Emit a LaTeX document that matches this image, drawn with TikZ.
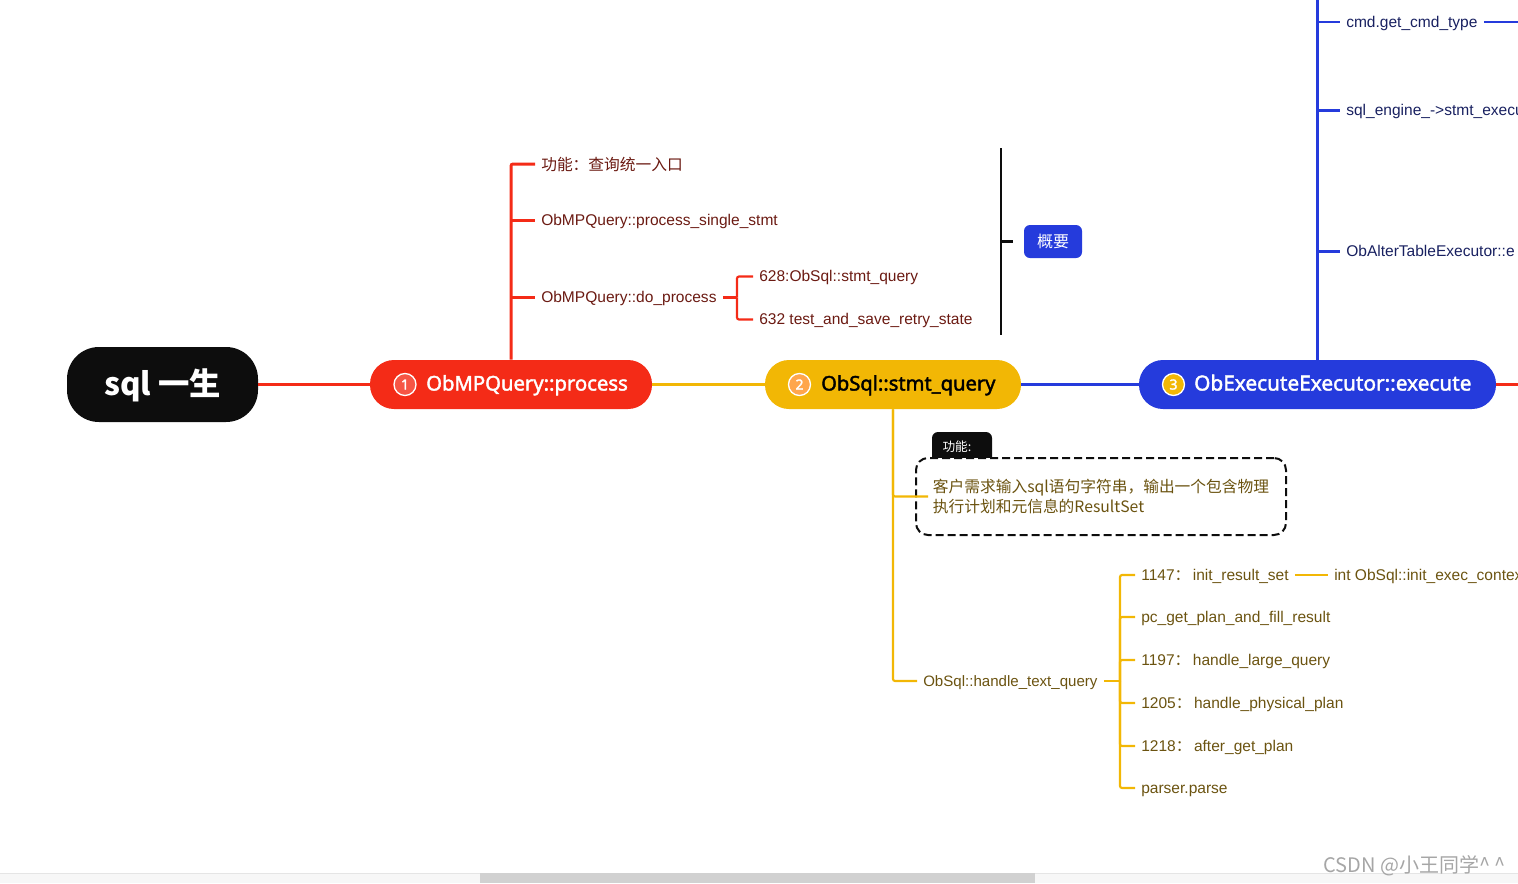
\documentclass[tikz,border=0pt]{standalone}
\usepackage{fontspec}
\setmainfont{Liberation Sans}
\newfontfamily\cjk{Noto Sans CJK SC}
\newfontfamily\boldf{Noto Sans}[FakeBold=2]
\definecolor{cred}{HTML}{F42B17}
\definecolor{cyel}{HTML}{F2B705}
\definecolor{cblu}{HTML}{253BDC}
\definecolor{cblk}{HTML}{0D0D0D}
\definecolor{tred}{HTML}{6B1A12}
\definecolor{tyel}{HTML}{6B5310}
\definecolor{tblu}{HTML}{182060}
\newcommand{\fw}{{\cjk ：}\hspace{2pt}}
\tikzset{
  x=0.75pt,y=-0.75pt,
  line/.style={line width=2.25pt,rounded corners=1.5pt},
  thick3/.style={line width=2.25pt},
  thin2/.style={line width=1.6pt,rounded corners=1.5pt},
  pill/.style={rounded corners=18pt,minimum height=36.75pt,inner sep=0pt,text=white,text height=12pt,text depth=3pt},
  badge/.style={circle,draw=white,line width=1pt,minimum size=16.5pt,inner sep=0pt,font=\boldf\fontsize{10.5pt}{12pt}\selectfont,text=white},
  leaf/.style={anchor=west,inner xsep=4.5pt,inner ysep=0pt,font=\fontsize{11.65pt}{14pt}\selectfont,text height=9.5pt,text depth=1.5pt},
  redt/.style={leaf,text=tred},
  yelt/.style={leaf,text=tyel},
  blut/.style={leaf,text=tblu},
}
\begin{document}
\begin{tikzpicture}
\useasboundingbox (0,0) rectangle (1518,883);
\clip (0,0) rectangle (1518,883);
% scrollbar
\fill[fill=black!3] (0,873) rectangle (1518,883);
\draw[black!10,line width=0.6pt] (0,873) -- (1518,873);
\fill[fill=black!18] (480,873) rectangle (1035,883);
% main pills
\node[pill,fill=cblk,rounded corners=24pt,minimum width=143.25pt,minimum height=56.25pt,text height=19pt,text depth=3pt,font=\cjk\bfseries\fontsize{23.5pt}{28pt}\selectfont] (root) at (162.5,384.5) {sql 一生};
\node[pill,fill=cred,minimum width=211.5pt,font=\boldf\fontsize{15.2pt}{18pt}\selectfont] (p1) at (511,384.5) {\hspace*{24pt}ObMPQuery::process};
\node[pill,fill=cyel,minimum width=192pt,text=black,font=\boldf\fontsize{15.1pt}{18pt}\selectfont] (p2) at (893,384.5) {\hspace*{23pt}ObSql::stmt\_query};
\node[pill,fill=cblu,minimum width=267.75pt,font=\boldf\fontsize{15.6pt}{18pt}\selectfont] (p3) at (1317.5,384.5) {\hspace*{23pt}ObExecuteExecutor::execute};
\node[badge,fill=cred!80!white] (b1) at (405,384.5) {1};
\node[badge,fill=orange!70!white] (b2) at (799.5,384.5) {2};
\node[badge,fill=cyel] (b3) at (1173.5,384.5) {3};
\coordinate (edgeR) at (1518,384.5);
\coordinate (topB) at (1317.5,0);
\coordinate (edgeB) at (1518,22);
% main connectors
\draw[thick3,cred] (root.east) -- (p1.west);
\draw[thick3,cyel] (p1.east) -- (p2.west);
\draw[thick3,cblu] (p2.east) -- (p3.west);
\draw[thick3,cred] (p3.east) -- (edgeR);
% red branch
\node[redt,font=\cjk\fontsize{11.8pt}{14pt}\selectfont] (r1) at (535,165) {功能：查询统一入口};
\node[redt] (r2) at (535,220.5) {ObMPQuery::process\_single\_stmt};
\node[redt] (r3) at (535,297.5) {ObMPQuery::do\_process};
\node[redt] (r4) at (753,276.5) {628:ObSql::stmt\_query};
\node[redt] (r5) at (753,319.5) {632 test\_and\_save\_retry\_state};
\coordinate (r1c) at (535,164);
\draw[line,cred] (p1.north) |- (r1c);
\draw[thin2,cred] (p1.north |- r2.west) -- (r2.west);
\draw[thin2,cred] (p1.north |- r3.west) -- (r3.west);
\coordinate (rt) at (737,297.5);
\draw[thin2,cred] (r3.east) -- (rt);
\draw[thin2,cred] (rt) |- (r4.west);
\draw[thin2,cred] (rt) |- (r5.west);
% summary
\node[fill=cblu,rounded corners=4.5pt,minimum width=43.5pt,minimum height=24.75pt,inner sep=0pt,text=white,font=\cjk\fontsize{12pt}{14pt}\selectfont] (sum) at (1053,241.5) {概要};
\coordinate (bt) at (1001,148);
\coordinate (bb) at (1001,335);
\coordinate (bm) at (1001,241.5);
\coordinate (bs) at (1013,241.5);
\draw[thin2,cblk] (bt) -- (bb);
\draw[thin2,cblk] (bm) -- (bs);
% note
\node[fill=cblk,rounded corners=4.5pt,minimum width=45pt,minimum height=24pt,inner sep=0pt,text=white,font=\cjk\fontsize{9.5pt}{11pt}\selectfont] (tab) at (962,448) {\raisebox{3pt}{功能:}\hspace*{7.5pt}};
\node[draw=cblk,fill=white,dash pattern=on 6pt off 3pt,line width=1.5pt,rounded corners=9pt,minimum width=277.5pt,minimum height=57.75pt,inner sep=0pt,text=tyel,anchor=west,align=left,font=\cjk\fontsize{11.8pt}{15pt}\selectfont] (note) at (915,496.5) {客户需求输入sql语句字符串，输出一个包含物理\\执行计划和元信息的ResultSet};
\coordinate (nc) at (928,496.5);
\draw[thin2,cyel] (p2.south) |- (nc);
% yellow branch
\node[yelt,font=\fontsize{11.3pt}{14pt}\selectfont] (y0) at (917,681) {ObSql::handle\_text\_query};
\draw[thin2,cyel] (p2.south) |- (y0.west);
\node[yelt] (y1) at (1135,575) {1147\fw init\_result\_set};
\node[yelt] (y2) at (1135,617) {pc\_get\_plan\_and\_fill\_result};
\node[yelt] (y3) at (1135,660) {1197\fw handle\_large\_query};
\node[yelt] (y4) at (1135,703) {1205\fw handle\_physical\_plan};
\node[yelt] (y5) at (1135,746) {1218\fw after\_get\_plan};
\node[yelt] (y6) at (1135,788) {parser.parse};
\node[yelt] (y7) at (1328,575) {int ObSql::init\_exec\_contex};
\coordinate (yt) at (1120,681);
\draw[thin2,cyel] (y0.east) -- (yt);
\foreach \n in {y1,y2,y3,y4,y5,y6} \draw[thin2,cyel] (yt) |- (\n.west);
\draw[thin2,cyel] (y1.east) -- (y7.west);
% blue branch
\node[blut] (u1) at (1340,22) {cmd.get\_cmd\_type};
\node[blut] (u2) at (1340,110.5) {sql\_engine\_->stmt\_execu};
\node[blut] (u3) at (1340,251.5) {ObAlterTableExecutor::e};
\draw[line,cblu] (p3.north) -- (topB);
\draw[thin2,cblu] (topB |- u1.west) -- (u1.west);
\draw[thin2,cblu] (topB |- u2.west) -- (u2.west);
\draw[thin2,cblu] (topB |- u3.west) -- (u3.west);
\draw[thin2,cblu] (u1.east) -- (edgeB);
% watermark
\node[anchor=west,inner sep=0pt,text=black!35,font=\cjk\fontsize{15pt}{18pt}\selectfont] (wm) at (1323,866) {CSDN @小王同学\^{} \^{}};
\end{tikzpicture}
\end{document}
